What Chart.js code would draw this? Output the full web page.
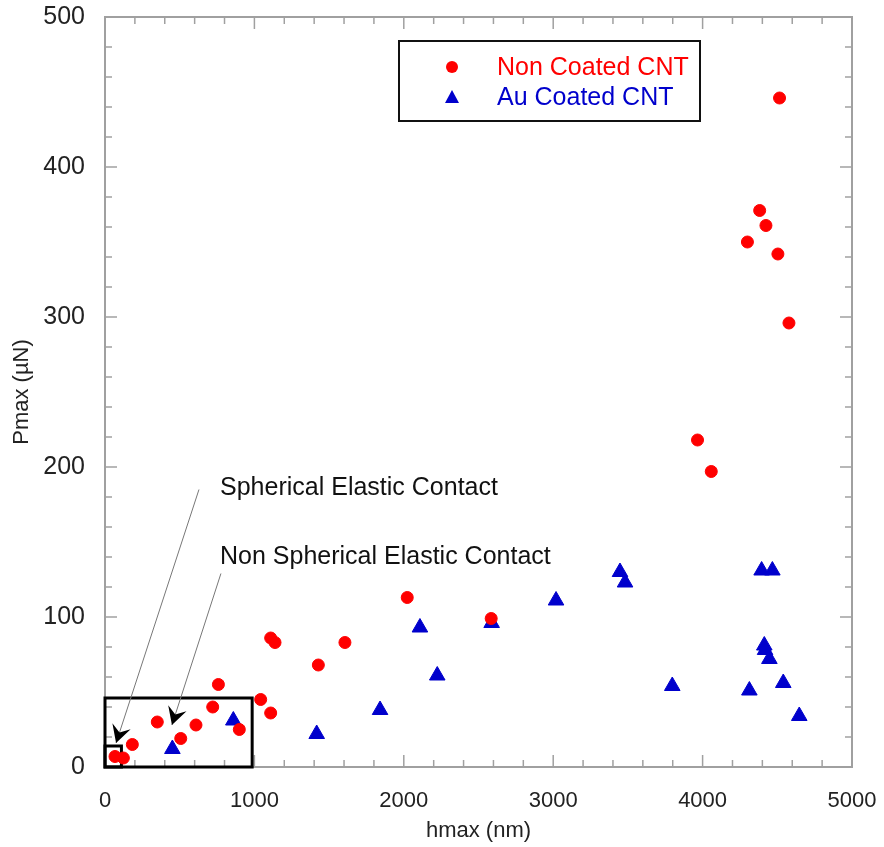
<!DOCTYPE html>
<html>
<head>
<meta charset="utf-8">
<script src="https://cdn.jsdelivr.net/npm/chart.js@4.4.1/dist/chart.umd.min.js"></script>
<style>
  html, body { margin: 0; padding: 0; background: #fff; }
</style>
</head>
<body>
<canvas id="chart" width="884" height="847"></canvas>
<script>
const FONT = '"Liberation Sans", Arial, Helvetica, sans-serif';

// Non coated CNT (red circles)
const nonCoatedH = [67, 123, 183, 350, 507, 609, 721, 759, 899, 1042, 1109, 1109, 1138, 1428, 1606, 2023, 2585, 3966, 4058, 4300, 4382, 4424, 4504, 4515, 4578];
const nonCoatedP = [7, 6, 15, 30, 19, 28, 40, 55, 25, 45, 36, 86, 83, 68, 83, 113, 99, 218, 197, 350, 371, 361, 342, 446, 296];

// Au coated CNT (blue triangles)
const auCoatedH = [451, 859, 1417, 1841, 2108, 2224, 2588, 3019, 3447, 3481, 3797, 4313, 4395, 4467, 4413, 4418, 4447, 4540, 4647];
const auCoatedP = [12, 31, 22, 38, 93, 61, 96, 111, 130, 123, 54, 51, 131, 131, 81, 78, 72, 56, 34];

const xTicks = [0, 1000, 2000, 3000, 4000, 5000];
const yTicks = [0, 100, 200, 300, 400, 500];

// annotation items in data units
const zoomBoxes = [
  { x1: 0, x2: 985, y1: 0, y2: 46 },
  { x1: 0, x2: 110, y1: 0, y2: 14 }
];
const noteTexts = [
  { text: 'Spherical Elastic Contact', x: 770, y: 186 },
  { text: 'Non Spherical Elastic Contact', x: 770, y: 140 }
];
const noteArrows = [
  { from: [629, 185], to: [74, 16] },
  { from: [776, 129], to: [448, 28] }
];

const toPoints = (xs, ys) => xs.map((v, i) => ({ x: v, y: ys[i] }));
const noPad = s => { s.paddingTop = 0; s.paddingBottom = 0; s.paddingLeft = 0; s.paddingRight = 0; };

const annotations = {
  id: 'annotations',
  beforeDatasetsDraw(chart) {
    const { ctx, chartArea: a, scales: { x, y } } = chart;
    ctx.save();
    const line = (x1, y1, x2, y2) => {
      ctx.beginPath(); ctx.moveTo(x1, y1); ctx.lineTo(x2, y2); ctx.stroke();
    };
    // frame + inward ticks
    ctx.strokeStyle = '#a0a0a0';
    ctx.lineWidth = 1.5;
    for (let v = 0; v <= 5000; v += 200) {
      const px = x.getPixelForValue(v);
      const len = v % 1000 === 0 ? 12 : 7;
      line(px, a.bottom, px, a.bottom - len);
      line(px, a.top, px, a.top + len);
    }
    for (let v = 0; v <= 500; v += 20) {
      const py = y.getPixelForValue(v);
      const len = v % 100 === 0 ? 12 : 7;
      line(a.left, py, a.left + len, py);
      line(a.right, py, a.right - len, py);
    }
    ctx.lineWidth = 2;
    ctx.strokeRect(a.left, a.top, a.right - a.left, a.bottom - a.top);

    // zoom boxes
    ctx.strokeStyle = '#000';
    ctx.lineWidth = 3;
    zoomBoxes.forEach(b => {
      const l = x.getPixelForValue(b.x1), r = x.getPixelForValue(b.x2);
      const t = y.getPixelForValue(b.y2), btm = y.getPixelForValue(b.y1);
      ctx.strokeRect(l, t, r - l, btm - t);
    });
    ctx.restore();
  },
  afterDatasetsDraw(chart) {
    const { ctx, scales: { x, y } } = chart;
    ctx.save();

    // arrows
    noteArrows.forEach(ar => {
      const x1 = x.getPixelForValue(ar.from[0]), y1 = y.getPixelForValue(ar.from[1]);
      const x2 = x.getPixelForValue(ar.to[0]), y2 = y.getPixelForValue(ar.to[1]);
      const ang = Math.atan2(y2 - y1, x2 - x1);
      ctx.strokeStyle = '#777';
      ctx.lineWidth = 1;
      ctx.beginPath(); ctx.moveTo(x1, y1); ctx.lineTo(x2, y2); ctx.stroke();
      const L = 20, W = 0.5, N = 11;
      ctx.fillStyle = '#000';
      ctx.beginPath();
      ctx.moveTo(x2, y2);
      ctx.lineTo(x2 - L * Math.cos(ang - W), y2 - L * Math.sin(ang - W));
      ctx.lineTo(x2 - N * Math.cos(ang), y2 - N * Math.sin(ang));
      ctx.lineTo(x2 - L * Math.cos(ang + W), y2 - L * Math.sin(ang + W));
      ctx.closePath();
      ctx.fill();
    });

    // texts
    ctx.fillStyle = '#111';
    ctx.font = '25px ' + FONT;
    ctx.textAlign = 'left';
    ctx.textBaseline = 'middle';
    noteTexts.forEach(n => {
      ctx.fillText(n.text, x.getPixelForValue(n.x), y.getPixelForValue(n.y));
    });

    // legend
    ctx.strokeStyle = '#111';
    ctx.lineWidth = 2;
    ctx.strokeRect(399, 41, 301, 80);
    ctx.font = '25px ' + FONT;
    ctx.fillStyle = '#ff0000';
    ctx.beginPath(); ctx.arc(452, 67, 6, 0, Math.PI * 2); ctx.fill();
    ctx.fillText('Non Coated CNT', 497, 68);
    ctx.fillStyle = '#0000cc';
    ctx.beginPath();
    ctx.moveTo(452, 90); ctx.lineTo(459, 103); ctx.lineTo(445, 103);
    ctx.closePath(); ctx.fill();
    ctx.fillText('Au Coated CNT', 497, 98);
    ctx.restore();
  }
};

new Chart(document.getElementById('chart'), {
  type: 'scatter',
  data: {
    datasets: [
      {
        label: 'Non Coated CNT',
        data: toPoints(nonCoatedH, nonCoatedP),
        pointStyle: 'circle',
        pointRadius: 6,
        backgroundColor: '#ff0000',
        borderColor: '#ff0000',
        borderWidth: 1
      },
      {
        label: 'Au Coated CNT',
        data: toPoints(auCoatedH, auCoatedP),
        pointStyle: 'triangle',
        pointRadius: 9,
        backgroundColor: '#0000cc',
        borderColor: '#0000cc',
        borderWidth: 1
      }
    ]
  },
  options: {
    responsive: false,
    animation: false,
    clip: false,
    layout: { padding: { left: 0, top: 17, right: 32, bottom: 0 } },
    plugins: { legend: { display: false }, tooltip: { enabled: false } },
    scales: {
      x: {
        type: 'linear',
        min: 0,
        max: 5000,
        grid: { display: false, drawTicks: false },
        border: { display: false },
        afterBuildTicks: s => { s.ticks = xTicks.map(v => ({ value: v })); },
        ticks: { padding: 21, color: '#222', font: { family: FONT, size: 22 }, callback: v => String(v) },
        title: { display: true, text: 'hmax (nm)', color: '#222', font: { family: FONT, size: 22 }, padding: { top: 0, bottom: 3 } },
        afterFit: s => { s.height = 80; noPad(s); }
      },
      y: {
        type: 'linear',
        min: 0,
        max: 500,
        grid: { display: false, drawTicks: false },
        border: { display: false },
        afterBuildTicks: s => { s.ticks = yTicks.map(v => ({ value: v })); },
        ticks: { padding: 20, color: '#222', font: { family: FONT, size: 25 }, callback: v => String(v) },
        title: { display: true, text: 'Pmax (µN)', color: '#222', font: { family: FONT, size: 22 }, padding: { top: 9, bottom: 0 } },
        afterFit: s => { s.width = 105; noPad(s); }
      }
    }
  },
  plugins: [annotations]
});
</script>
</body>
</html>
